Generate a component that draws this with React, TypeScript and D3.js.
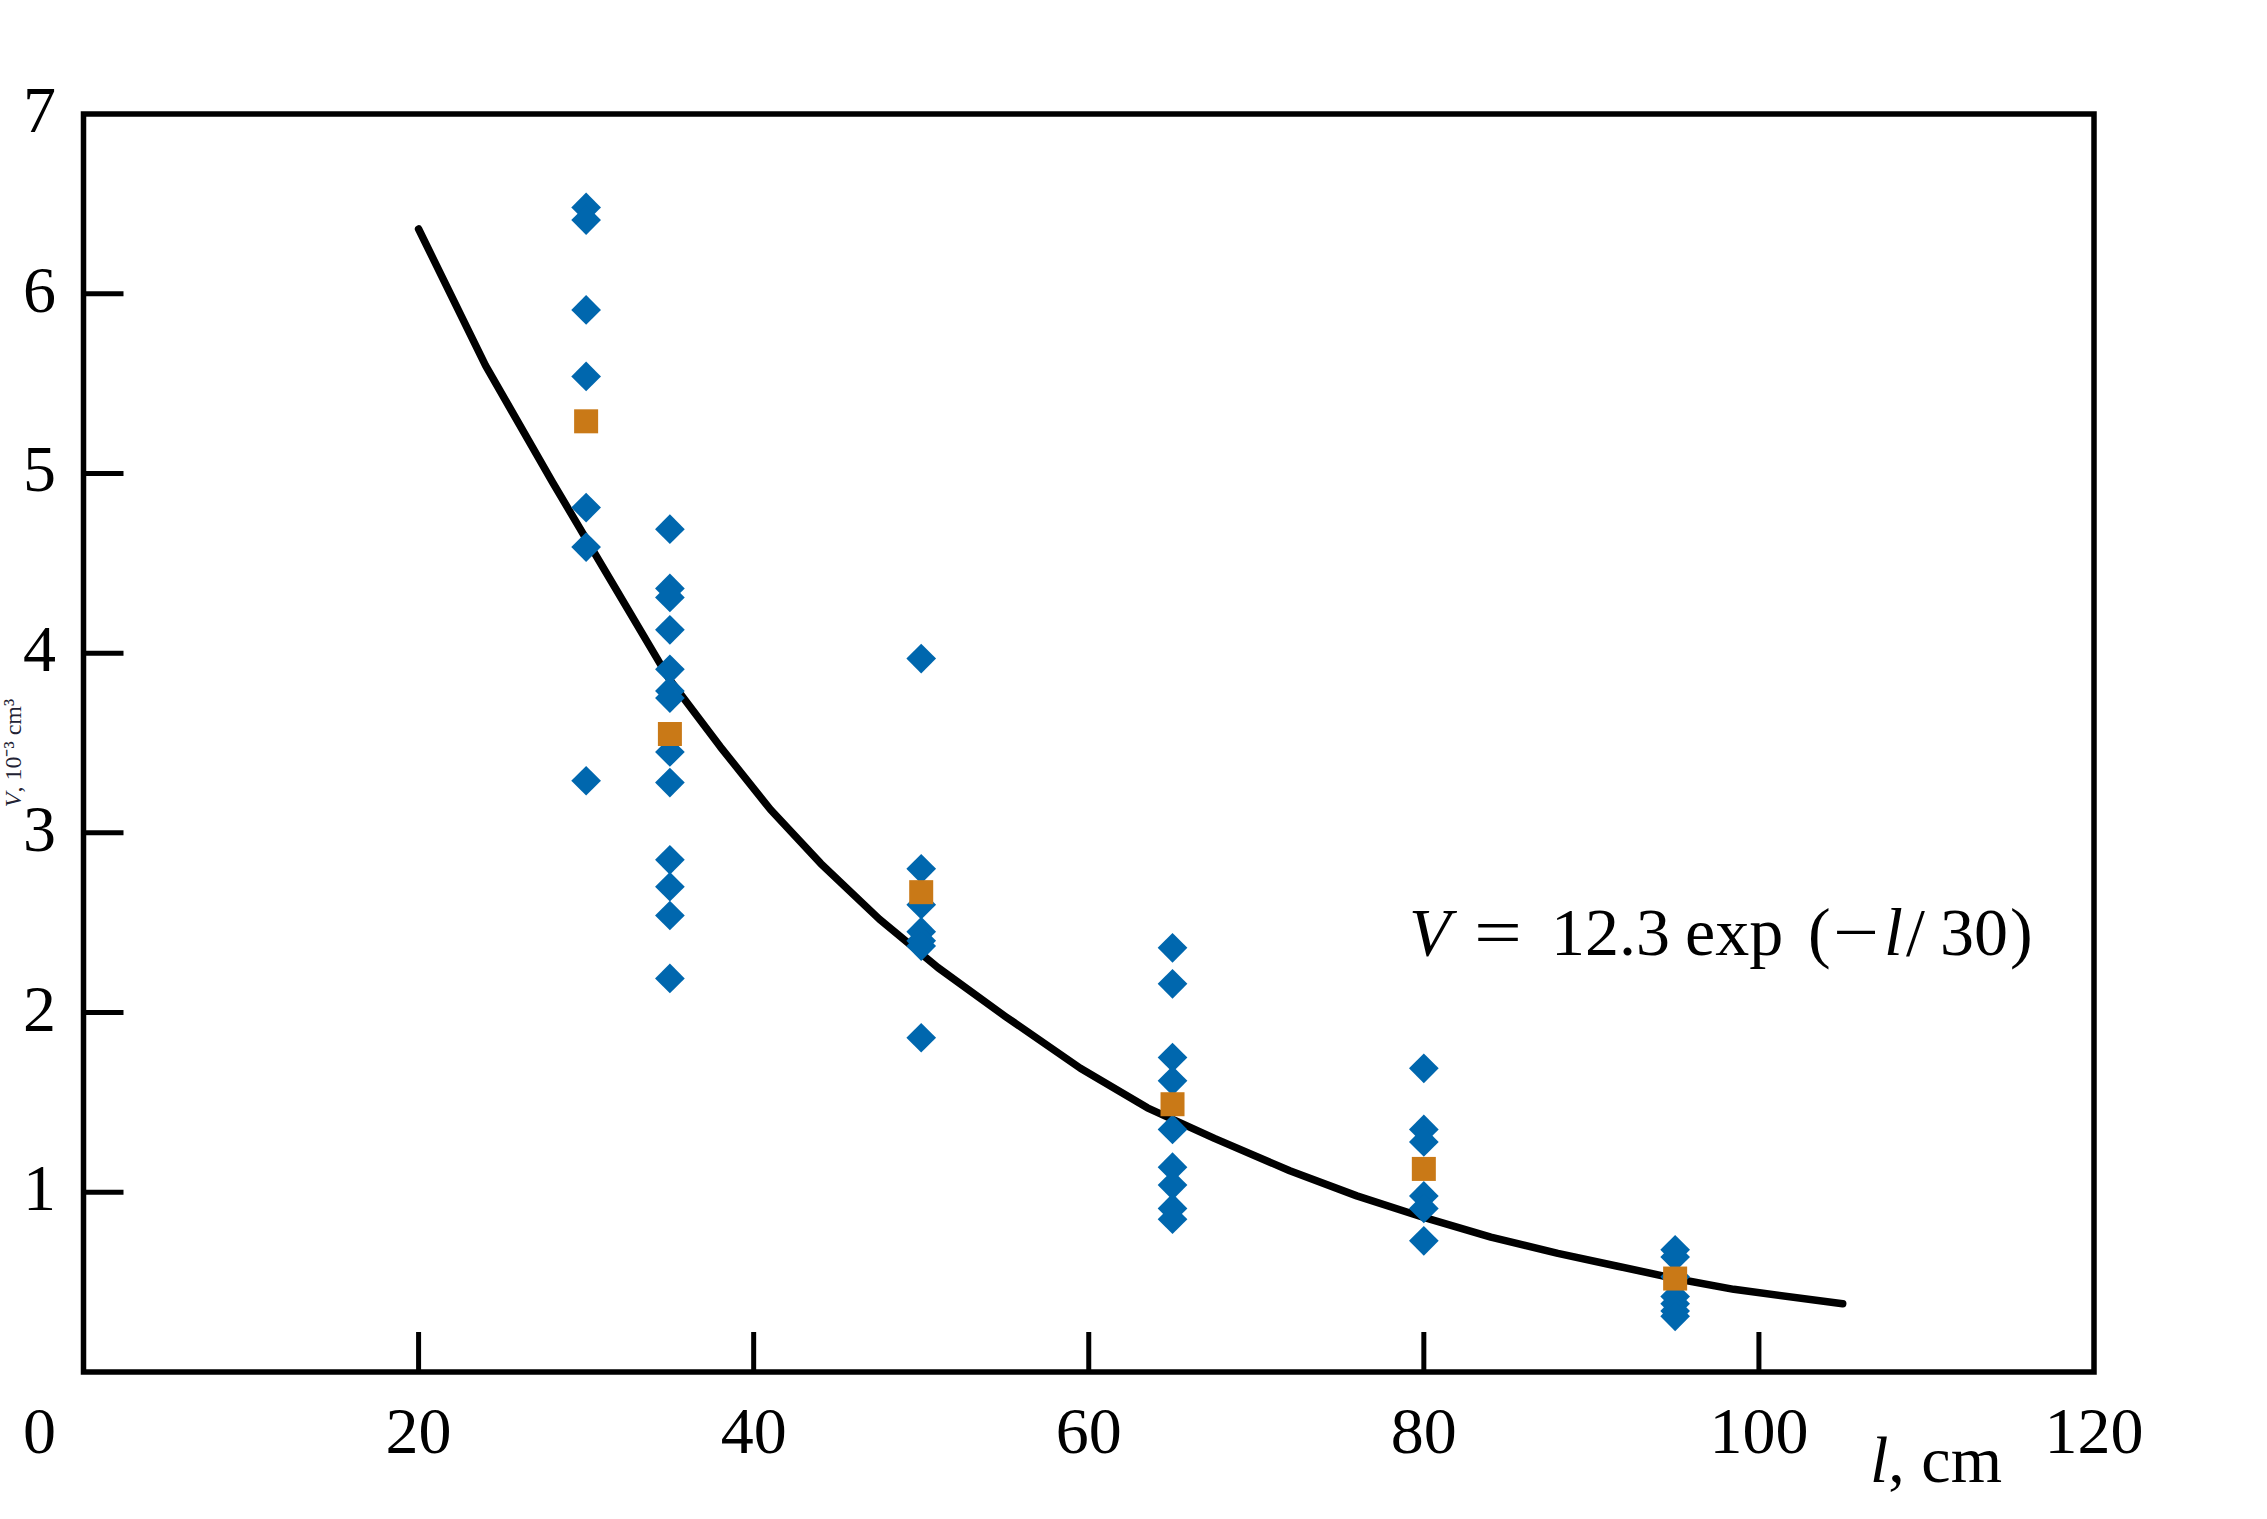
import React, { useEffect, useRef } from 'react';
import * as d3 from 'd3';

const lengths = [30, 35, 50, 65, 80, 95];
const at30 = [6.48, 6.41, 5.91, 5.54, 4.81, 4.59, 3.29];
const at35 = [4.69, 4.36, 4.31, 4.13, 3.91, 3.79, 3.75, 3.45, 3.28, 2.85, 2.7, 2.54, 2.19];
const at50 = [3.97, 2.8, 2.6, 2.45, 2.4, 2.37, 1.86];
const at65 = [2.36, 2.16, 1.75, 1.62, 1.35, 1.14, 1.04, 0.91, 0.85];
const at80 = [1.69, 1.35, 1.28, 0.98, 0.91, 0.73];
const at95 = [0.68, 0.64, 0.53, 0.42, 0.38, 0.34, 0.31];
const measured = [at30, at35, at50, at65, at80, at95];

// column means (orange squares)
const meanV = [5.29, 3.55, 2.67, 1.49, 1.13, 0.52];

// fitted curve V = 12.3 exp(-l/30)
const fitL = [20, 24, 28, 31.5, 35, 38, 41, 44, 47.5, 51, 55, 59.5, 63.5, 67.5, 72, 76, 80, 84, 88, 91.5, 95, 98.5, 105];
const fitV = [6.36, 5.6, 4.95, 4.4, 3.85, 3.48, 3.13, 2.83, 2.52, 2.25, 1.98, 1.69, 1.47, 1.3, 1.12, 0.98, 0.86, 0.75, 0.66, 0.59, 0.52, 0.46, 0.38];

const xTicks = [20, 40, 60, 80, 100, 120];
const yTicks = [1, 2, 3, 4, 5, 6, 7];

const W = 2267;
const H = 1519;
const FONT = '"Liberation Serif", "Times New Roman", serif';
const BLUE = '#0067ae';
const ORANGE = '#c97917';

const Chart: React.FC = () => {
  const svgRef = useRef<SVGSVGElement | null>(null);

  useEffect(() => {
    document.body.style.margin = '0';
    const svg = d3.select(svgRef.current).attr('width', W).attr('height', H);
    svg.selectAll('*').remove();

    const x = d3.scaleLinear().domain([0, 120]).range([83.5, 2094]);
    const y = d3.scaleLinear().domain([0, 7]).range([1372, 114]);

    svg.append('rect').attr('width', W).attr('height', H).attr('fill', '#fff');

    // ticks (inward)
    svg.selectAll('.xt')
      .data(xTicks.filter((t) => t < 120))
      .enter().append('line')
      .attr('x1', (d) => x(d)).attr('x2', (d) => x(d))
      .attr('y1', y(0)).attr('y2', y(0) - 40)
      .attr('stroke', '#000').attr('stroke-width', 5);

    svg.selectAll('.yt')
      .data(yTicks.filter((t) => t < 7))
      .enter().append('line')
      .attr('x1', x(0)).attr('x2', x(0) + 40)
      .attr('y1', (d) => y(d)).attr('y2', (d) => y(d))
      .attr('stroke', '#000').attr('stroke-width', 5);

    // tick labels
    svg.selectAll('.xl')
      .data(xTicks)
      .enter().append('text')
      .attr('x', (d) => x(d)).attr('y', 1453)
      .attr('text-anchor', 'middle')
      .attr('font-family', FONT).attr('font-size', 66)
      .text((d) => d);

    svg.append('text')
      .attr('x', 56).attr('y', 1453)
      .attr('text-anchor', 'end')
      .attr('font-family', FONT).attr('font-size', 66)
      .text('0');

    svg.selectAll('.yl')
      .data(yTicks)
      .enter().append('text')
      .attr('x', 56).attr('y', (d) => y(d) + 18)
      .attr('text-anchor', 'end')
      .attr('font-family', FONT).attr('font-size', 66)
      .text((d) => d);

    // axis titles
    const xt = svg.append('text')
      .attr('x', 1870).attr('y', 1482)
      .attr('font-family', FONT).attr('font-size', 66);
    xt.append('tspan').attr('font-style', 'italic').text('l');
    xt.append('tspan').text(', cm');

    // y title squeezed into the narrow left margin
    const yt = svg.append('text')
      .attr('transform', `translate(21, ${(y(0) + y(7)) / 2 + 10}) rotate(-90)`)
      .attr('text-anchor', 'middle')
      .attr('font-family', FONT).attr('font-size', 24)
      .attr('fill', '#223');
    yt.append('tspan').attr('font-style', 'italic').text('V');
    yt.append('tspan').text(', 10⁻³ cm³');

    // fitted curve
    const line = d3.line<number>()
      .x((_, i) => x(fitL[i]))
      .y((d) => y(d));
    svg.append('path')
      .datum(fitV)
      .attr('d', line)
      .attr('fill', 'none')
      .attr('stroke', '#000')
      .attr('stroke-width', 7.5)
      .attr('stroke-linejoin', 'round')
      .attr('stroke-linecap', 'round');

    // measured points (diamonds)
    const pts = measured.flatMap((vals, i) =>
      vals.map((v) => ({ l: lengths[i], v }))
    );
    const diamond = d3.symbol().type(d3.symbolSquare).size(21 * 21);
    svg.selectAll('.pt')
      .data(pts)
      .enter().append('path')
      .attr('d', diamond)
      .attr('transform', (d) => `translate(${x(d.l)},${y(d.v)}) rotate(45)`)
      .attr('fill', BLUE);

    // means (squares)
    svg.selectAll('.mean')
      .data(meanV)
      .enter().append('rect')
      .attr('x', (_, i) => x(lengths[i]) - 12)
      .attr('y', (d) => y(d) - 12)
      .attr('width', 24).attr('height', 24)
      .attr('fill', ORANGE);

    // frame
    svg.append('rect')
      .attr('x', x(0)).attr('y', y(7))
      .attr('width', x(120) - x(0)).attr('height', y(0) - y(7))
      .attr('fill', 'none')
      .attr('stroke', '#000').attr('stroke-width', 5.5);

    // fit formula, laid out piece by piece like the typeset original
    const pieces: [string, number, boolean, number?][] = [
      ['V', 1409, true],
      ['=', 1474, false, 48],
      ['12.3', 1551, false],
      ['exp', 1685, false],
      ['(', 1808, false],
      ['−', 1833, false, 46],
      ['l', 1884, true],
      ['/', 1906, false],
      ['30', 1940, false],
      [')', 2010, false],
    ];
    pieces.forEach(([s, px, it, len]) => {
      const t = svg.append('text')
        .attr('x', px).attr('y', 955)
        .attr('font-family', FONT).attr('font-size', 68)
        .attr('font-style', it ? 'italic' : 'normal')
        .text(s);
      if (len) t.attr('textLength', len).attr('lengthAdjust', 'spacingAndGlyphs');
    });
  }, []);

  return <svg ref={svgRef} />;
};

export default function App() {
  return <Chart />;
}
